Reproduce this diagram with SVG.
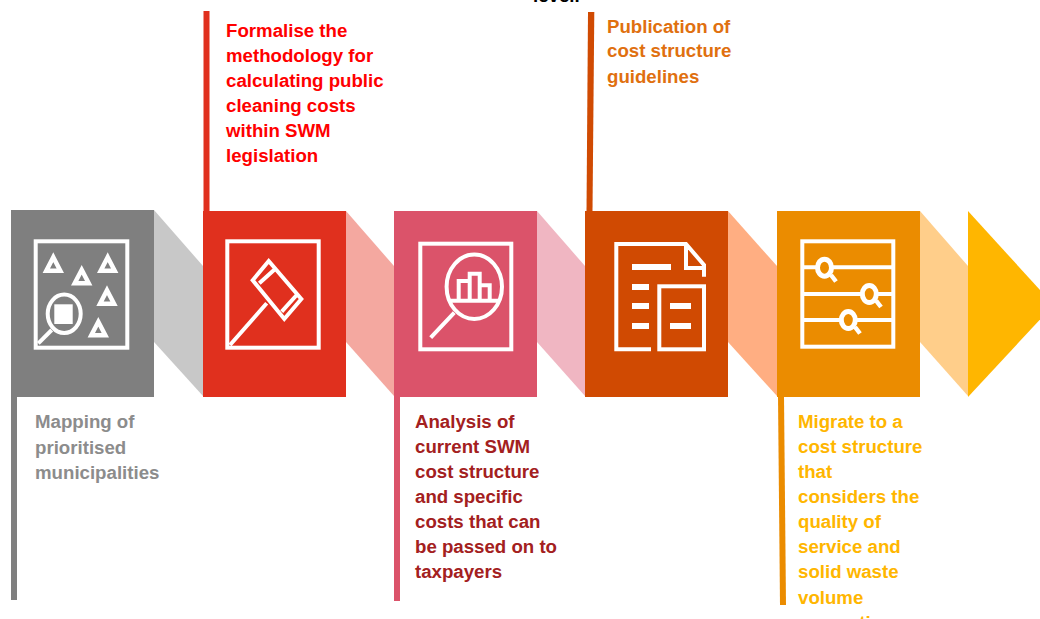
<svg xmlns="http://www.w3.org/2000/svg" width="1040" height="619" viewBox="0 0 1040 619">
<style>
text{font-family:"Liberation Sans",Arial,sans-serif;font-weight:700;font-size:18.67px}
.i{fill:none;stroke:#fff;stroke-width:4}
.t{fill:none;stroke:#fff;stroke-width:4.5}
.l{fill:none;stroke:#fff;stroke-width:6}
.w{fill:#fff}
.m{fill:#eb8c00;stroke:#fff;stroke-width:5}
</style>
<rect width="1040" height="619" fill="#fff"/>
<g id="connectors">
<polygon points="154,210 203,266 203,396 154,342" fill="#c8c8c8"/>
<polygon points="346,211 394,266 394,396 346,342" fill="#f4a8a0"/>
<polygon points="537,211 585,266 585,396 537,342" fill="#f0b6c2"/>
<polygon points="728,211 777,266 777,396 728,342" fill="#ffae82"/>
<polygon points="920,211 968,266 968,396 920,342" fill="#ffce8a"/>
<rect x="11" y="396" width="6" height="204" fill="#7f7f7f"/>
<rect x="203.500" y="11" width="6" height="200" fill="#e0301e"/>
<rect x="394" y="396" width="6" height="205" fill="#db536a"/>
<polygon points="588,12 594.300,12 592.500,211 586.500,211" fill="#d04a02"/>
<polygon points="778,396 784,396 786,605 780,605" fill="#eb8c00"/>
</g>
<g id="node1">
<rect x="11" y="210" width="143" height="187" fill="#7f7f7f"/>
<rect class="i" x="35.700" y="241.300" width="91.600" height="106.400"/>
<path class="t" d="M53.300 257.200l7 13.500h-14zM81.700 269.800l7 13.500h-14zM107.700 257.200l7 13.500h-14zM107 290.200l7 13.500h-14zM98.300 321.800l7 13.500h-14z"/>
<ellipse class="i" cx="64.200" cy="313.800" rx="16.500" ry="19.200"/>
<rect class="w" x="54.300" y="304.300" width="18.400" height="19.700"/>
<path class="i" d="M38.300 343.300L51.700 330"/>
<text x="35" y="428" fill="#8c8c8c">Mapping of</text>
<text x="35" y="454" fill="#8c8c8c">prioritised</text>
<text x="35" y="479" fill="#8c8c8c">municipalities</text>
</g>
<g id="node2">
<rect x="203" y="211" width="143" height="186" fill="#e0301e"/>
<rect class="i" x="227.300" y="241.300" width="91.400" height="106.400"/>
<path class="i" d="M268.700 261L301.300 299 284.300 319 252.700 280.300ZM274 270L259.300 283.300M296.700 295L281.700 311.700M266.700 303.300L230 345"/>
<text x="226" y="37" fill="#ff0000">Formalise the</text>
<text x="226" y="62" fill="#ff0000">methodology for</text>
<text x="226" y="87" fill="#ff0000">calculating public</text>
<text x="226" y="112" fill="#ff0000">cleaning costs</text>
<text x="226" y="137" fill="#ff0000">within SWM</text>
<text x="226" y="162" fill="#ff0000">legislation</text>
</g>
<g id="node3">
<rect x="394" y="211" width="143" height="186" fill="#db536a"/>
<rect class="i" x="420.300" y="243.700" width="91" height="105.600"/>
<ellipse class="i" cx="474.300" cy="286.800" rx="27.700" ry="32.200"/>
<path class="i" d="M450 300.700h48M458.700 300v-19h11v19M469.700 281v-7.300h10v26.300M479.700 285.300h10v14.700M454.300 312.700L430.700 337.700"/>
<text x="415" y="428" fill="#a32020">Analysis of</text>
<text x="415" y="453" fill="#a32020">current SWM</text>
<text x="415" y="478" fill="#a32020">cost structure</text>
<text x="415" y="503" fill="#a32020">and specific</text>
<text x="415" y="528" fill="#a32020">costs that can</text>
<text x="415" y="553" fill="#a32020">be passed on to</text>
<text x="415" y="578" fill="#a32020">taxpayers</text>
</g>
<g id="node4">
<rect x="585" y="211" width="143" height="186" fill="#d04a02"/>
<path class="i" d="M651 349.300H616.300V244H686L704 265V276.700M686 244V268H706"/>
<rect class="i" x="659.300" y="286.300" width="44.700" height="63"/>
<path class="l" d="M632 267h39M632 287h17M632 306h17M632 326h17M670 306h21M670 326h21"/>
<text x="607" y="33" fill="#e0700f">Publication of</text>
<text x="607" y="57" fill="#e0700f">cost structure</text>
<text x="607" y="83" fill="#e0700f">guidelines</text>
</g>
<g id="node5">
<rect x="777" y="211" width="143" height="186" fill="#eb8c00"/>
<rect class="i" x="802.300" y="241.300" width="91" height="105.400"/>
<path class="i" d="M803 267.300h90M803 294h90M803 320h90"/>
<ellipse class="m" cx="824.500" cy="267.700" rx="7" ry="8.500"/>
<ellipse class="m" cx="869.300" cy="294" rx="7" ry="8.500"/>
<ellipse class="m" cx="848.300" cy="320" rx="7" ry="8.500"/>
<path class="t" d="M831 275l5 6.500M876 300.500l5 6.500M855 327l5 6.500"/>
<g fill="#ffb600">
<text x="798" y="428">Migrate to a</text>
<text x="798" y="453">cost structure</text>
<text x="798" y="478">that</text>
<text x="798" y="503">considers the</text>
<text x="798" y="528">quality of</text>
<text x="798" y="553">service and</text>
<text x="798" y="578">solid waste</text>
<text x="798" y="604">volume</text>
<text x="798" y="629">generation</text>
</g>
</g>
<g id="node6">
<polygon points="968,211 1040,290 1040,319.500 968,397" fill="#ffb600"/>
</g>
<text x="533" y="2" fill="#000" font-size="18.67">level.</text>
</svg>
